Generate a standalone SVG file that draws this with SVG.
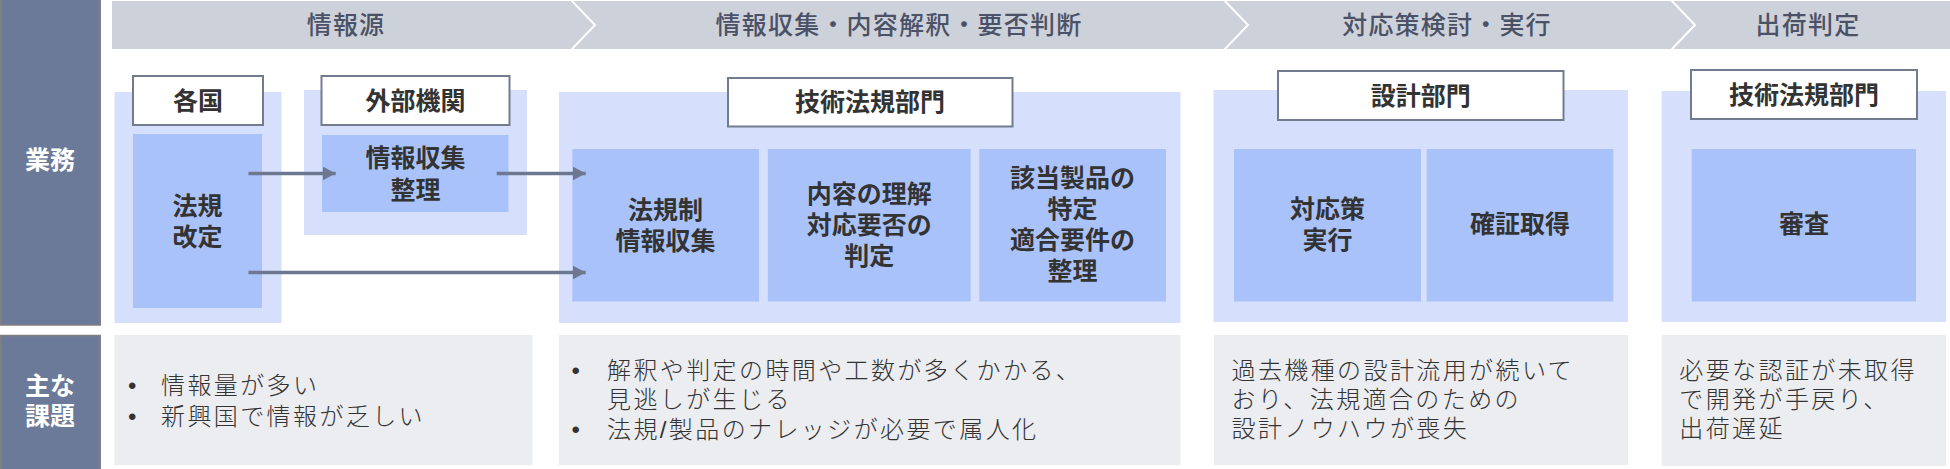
<svg xmlns="http://www.w3.org/2000/svg" width="1950" height="469" viewBox="0 0 1950 469">
<defs>
<style>
.side{fill:#6c7a99;stroke:#808080;stroke-width:1.5}
.sidet{font-family:"Liberation Sans","Noto Sans CJK JP",sans-serif;font-size:25px;font-weight:bold;fill:#ffffff;text-anchor:middle;dominant-baseline:central}
.hdr{fill:#cdd1da}
.chev{fill:none;stroke:#ffffff;stroke-width:2}
.hdrt{font-family:"Liberation Sans","Noto Sans CJK JP",sans-serif;font-size:25px;font-weight:500;fill:#4b5267;text-anchor:middle;dominant-baseline:central;letter-spacing:1.2px}
.panel{fill:#d6e0fc}
.lbl{fill:#ffffff;stroke:#737b8f;stroke-width:2}
.inner{fill:#aac2fa}
.bt{font-family:"Liberation Sans","Noto Sans CJK JP",sans-serif;font-size:25px;font-weight:bold;fill:#333333;text-anchor:middle;dominant-baseline:central}
.issue{fill:#ecedf1}
.it{font-family:"Liberation Sans","Noto Sans CJK JP",sans-serif;font-size:24px;font-weight:300;fill:#333333;dominant-baseline:central;letter-spacing:2.4px}
.conn{stroke:#6d7890;stroke-width:3.5;fill:none}
</style>
<marker id="ah" markerUnits="userSpaceOnUse" markerWidth="13" markerHeight="14" refX="13" refY="7" orient="auto">
<path d="M0,0 L13,7 L0,14 z" fill="#6d7890"/>
</marker>
</defs>

<g id="side-business">
<rect class="side" x="0.75" y="-1" width="99.5" height="326"/>
<text class="sidet" x="50" y="160">業務</text>
</g>
<g id="side-issues">
<rect class="side" x="0.75" y="335.5" width="99.5" height="135"/>
<text class="sidet" x="50" y="386">主な</text>
<text class="sidet" x="50" y="416">課題</text>
</g>

<g id="header">
<rect class="hdr" x="112" y="1" width="1838" height="48"/>
<polyline class="chev" points="571,0 595,25 571,50"/>
<polyline class="chev" points="1224,0 1248,25 1224,50"/>
<polyline class="chev" points="1671,0 1695,25 1671,50"/>
<text class="hdrt" x="346" y="25">情報源</text>
<text class="hdrt" x="899" y="25">情報収集・内容解釈・要否判断</text>
<text class="hdrt" x="1447" y="25">対応策検討・実行</text>
<text class="hdrt" x="1808" y="25">出荷判定</text>
</g>

<g id="panel-kakkoku">
<rect class="panel" x="114.5" y="92" width="167" height="231"/>
<rect class="lbl" x="133" y="76" width="130" height="49"/>
<text class="bt" x="198" y="100.5">各国</text>
</g>
<g id="node-hoki-kaitei">
<rect class="inner" x="133" y="134" width="129" height="174"/>
<text class="bt" x="197.5" y="205.5">法規</text>
<text class="bt" x="197.5" y="236.5">改定</text>
</g>

<g id="panel-gaibu">
<rect class="panel" x="304" y="90" width="223" height="145"/>
<rect class="lbl" x="321.5" y="76" width="188" height="49"/>
<text class="bt" x="415.5" y="100.5">外部機関</text>
</g>
<g id="node-joho-seiri">
<rect class="inner" x="322" y="135" width="186.5" height="77"/>
<text class="bt" x="415.5" y="158">情報収集</text>
<text class="bt" x="415.5" y="189.5">整理</text>
</g>

<g id="panel-gijutsu1">
<rect class="panel" x="559" y="92" width="621.5" height="231"/>
<rect class="lbl" x="728" y="78" width="284.5" height="48.5"/>
<text class="bt" x="870" y="102">技術法規部門</text>
</g>
<g id="node-hokisei">
<rect class="inner" x="572.3" y="149" width="186.7" height="152.5"/>
<text class="bt" x="665.6" y="210">法規制</text>
<text class="bt" x="665.6" y="241">情報収集</text>
</g>
<g id="node-naiyo">
<rect class="inner" x="767.8" y="149" width="202.8" height="152.5"/>
<text class="bt" x="869.2" y="194">内容の理解</text>
<text class="bt" x="869.2" y="225">対応要否の</text>
<text class="bt" x="869.2" y="256">判定</text>
</g>
<g id="node-gaitou">
<rect class="inner" x="979.3" y="149" width="186.7" height="152.5"/>
<text class="bt" x="1072.6" y="178">該当製品の</text>
<text class="bt" x="1072.6" y="209">特定</text>
<text class="bt" x="1072.6" y="240">適合要件の</text>
<text class="bt" x="1072.6" y="271">整理</text>
</g>

<g id="panel-sekkei">
<rect class="panel" x="1213.5" y="90" width="414.5" height="232"/>
<rect class="lbl" x="1278" y="71" width="285.5" height="49"/>
<text class="bt" x="1420.8" y="95.5">設計部門</text>
</g>
<g id="node-taiosaku">
<rect class="inner" x="1234" y="149" width="187" height="152.5"/>
<text class="bt" x="1327.5" y="209">対応策</text>
<text class="bt" x="1327.5" y="240">実行</text>
</g>
<g id="node-kakusho">
<rect class="inner" x="1426.7" y="149" width="186.6" height="152.5"/>
<text class="bt" x="1520" y="224">確証取得</text>
</g>

<g id="panel-gijutsu2">
<rect class="panel" x="1661.6" y="91" width="284.4" height="231"/>
<rect class="lbl" x="1691" y="70" width="226" height="49"/>
<text class="bt" x="1804" y="94.5">技術法規部門</text>
</g>
<g id="node-shinsa">
<rect class="inner" x="1691.7" y="149" width="224.3" height="152.5"/>
<text class="bt" x="1804" y="224">審査</text>
</g>

<g id="connectors">
<line class="conn" x1="248.5" y1="173.5" x2="335.7" y2="173.5" marker-end="url(#ah)"/>
<line class="conn" x1="496.7" y1="173.5" x2="585.7" y2="173.5" marker-end="url(#ah)"/>
<line class="conn" x1="248.5" y1="272.5" x2="585.7" y2="272.5" marker-end="url(#ah)"/>
</g>

<g id="issue-1">
<rect class="issue" x="114.5" y="335" width="418" height="130"/>
<text class="it" x="128" y="385">•</text>
<text class="it" x="161" y="385">情報量が多い</text>
<text class="it" x="128" y="416">•</text>
<text class="it" x="161" y="416">新興国で情報が乏しい</text>
</g>
<g id="issue-2">
<rect class="issue" x="559" y="335" width="621.5" height="130"/>
<text class="it" x="571.5" y="370">•</text>
<text class="it" x="607" y="370">解釈や判定の時間や工数が多くかかる、</text>
<text class="it" x="607" y="399">見逃しが生じる</text>
<text class="it" x="571.5" y="429">•</text>
<text class="it" x="607" y="429">法規/製品のナレッジが必要で属人化</text>
</g>
<g id="issue-3">
<rect class="issue" x="1214" y="335" width="414" height="130"/>
<text class="it" x="1231.5" y="370">過去機種の設計流用が続いて</text>
<text class="it" x="1231.5" y="399">おり、法規適合のための</text>
<text class="it" x="1231.5" y="428">設計ノウハウが喪失</text>
</g>
<g id="issue-4">
<rect class="issue" x="1661.7" y="335" width="284.3" height="131"/>
<text class="it" x="1679.3" y="370">必要な認証が未取得</text>
<text class="it" x="1679.3" y="399">で開発が手戻り、</text>
<text class="it" x="1679.3" y="428">出荷遅延</text>
</g>
</svg>
